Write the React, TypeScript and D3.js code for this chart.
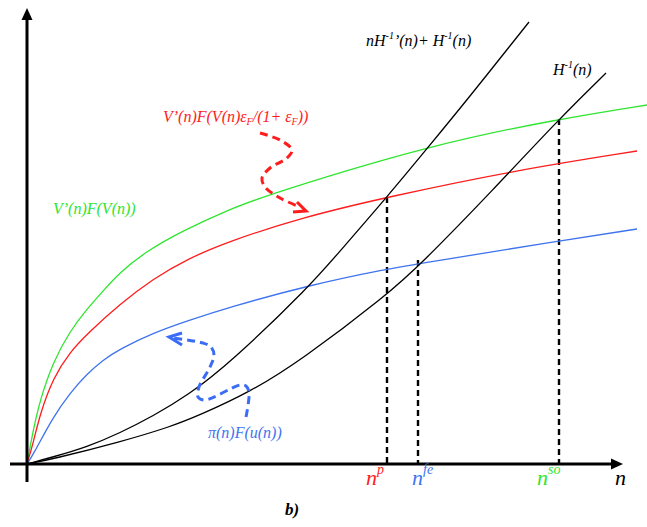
import React from "react";
import * as d3 from "d3";

// Data in chart units (n on x, value on y)
const greenVFV: [number, number][] = [
  [0, 0], [6, 33], [13, 64], [26, 102], [43, 133], [60, 155], [76, 173], [93, 192],
  [120, 213], [153, 232], [203, 255], [243, 270], [403, 319], [532, 345], [620, 359],
];
const redMarkup: [number, number][] = [
  [0, 0], [6, 20], [13, 50], [26, 86], [43, 112], [60, 130], [93, 160], [126, 185],
  [160, 205], [203, 223], [273, 246], [360, 267], [490, 294], [610, 313],
];
const bluePiFu: [number, number][] = [
  [0, 0], [6, 9], [26, 47], [43, 71], [60, 90], [76, 104], [93, 115], [126, 131],
  [160, 143], [203, 157], [283, 179], [360, 195], [396, 201], [532, 223], [610, 235],
];
const blackMarginal: [number, number][] = [
  [0, 0], [26, 7], [60, 17], [93, 31], [126, 48], [160, 68], [203, 101], [283, 178],
  [313, 213], [360, 267], [403, 319], [440, 364], [502, 442],
];
const blackH: [number, number][] = [
  [0, 0], [26, 5], [93, 22], [143, 37], [173, 49], [223, 72], [273, 103],
  [360, 169], [396, 202], [465, 273], [532, 345], [579, 391],
];
// Equilibrium points: n value and top of dashed guide
const nPoints = [
  { n: 360, top: 267 },
  { n: 391, top: 204 },
  { n: 532, top: 345 },
];
// Annotation arrow paths (chart units)
const redArrow: [number, number][] = [
  [233, 331], [253, 324], [265, 314], [260, 306], [243, 296], [235, 286], [238, 277],
  [253, 266], [273, 257],
];
const redHead: [number, number][] = [[270, 262], [279, 253], [266, 252]];
const blueArrow: [number, number][] = [
  [219, 47], [222, 72], [219, 78], [213, 79], [178, 64], [171, 67], [172, 77], [183, 97],
  [187, 109], [184, 117], [176, 121], [146, 126],
];
const blueHead: [number, number][] = [[155, 131], [142, 127], [155, 119]];

const W = 647;
const H = 527;
const x = d3.scaleLinear().domain([0, 600]).range([27, 627]);
const y = d3.scaleLinear().domain([0, 450]).range([464, 14]);

const GREEN = "#2fe52f";
const RED = "#ff1c1c";
const BLUE = "#3f74ee";
const BLUE_ANN = "#3a6cf5";
const FONT = '"Liberation Serif", "Times New Roman", serif';

export default function App() {
  const smooth = d3.line<[number, number]>().x((d) => x(d[0])).y((d) => y(d[1])).curve(d3.curveBasis);
  const arrowLine = d3
    .line<[number, number]>()
    .x((d) => x(d[0]))
    .y((d) => y(d[1]))
    .curve(d3.curveCatmullRom.alpha(0.5));
  const poly = d3.line<[number, number]>().x((d) => x(d[0])).y((d) => y(d[1]));

  const curves: { data: [number, number][]; color: string }[] = [
    { data: greenVFV, color: GREEN },
    { data: redMarkup, color: RED },
    { data: bluePiFu, color: BLUE },
    { data: blackMarginal, color: "#000" },
    { data: blackH, color: "#000" },
  ];

  const ox = x(0);
  const oy = y(0);
  const ts: React.CSSProperties = { fontFamily: FONT, fontStyle: "italic" };

  return (
    <svg width={W} height={H} style={{ position: "absolute", left: 0, top: 0, background: "#fff" }}>
      <rect width={W} height={H} fill="#fff" />
      {nPoints.map((p, i) => (
        <line key={i} x1={x(p.n)} x2={x(p.n)} y1={y(p.top)} y2={oy} stroke="#000" strokeWidth={2.4} strokeDasharray="6,4" />
      ))}
      {curves.map((c, i) => (
        <path key={i} d={smooth(c.data) || ""} fill="none" stroke={c.color} strokeWidth={1.3} />
      ))}
      <line x1={ox} x2={ox} y1={482} y2={20} stroke="#000" strokeWidth={3} />
      <path d={`M${ox - 5.5},${20} L${ox},${8} L${ox + 5.5},${20} Z`} fill="#000" />
      <line x1={10} x2={611} y1={oy} y2={oy} stroke="#000" strokeWidth={3} />
      <path d={`M611,${oy - 5.5} L623,${oy} L611,${oy + 5.5} Z`} fill="#000" />

      <path d={arrowLine(redArrow) || ""} fill="none" stroke={RED} strokeWidth={3} strokeDasharray="8,5" />
      <path d={poly(redHead) || ""} fill="none" stroke={RED} strokeWidth={3} />
      <path d={arrowLine(blueArrow) || ""} fill="none" stroke={BLUE_ANN} strokeWidth={3} strokeDasharray="8,5" />
      <path d={poly(blueHead) || ""} fill="none" stroke={BLUE_ANN} strokeWidth={3} />

      <text x={366} y={46} fontSize={16} style={ts} fill="#000">
        nH<tspan fontSize={10} dy={-7}>-1</tspan>
        <tspan dy={7}>’(n)+ H</tspan>
        <tspan fontSize={10} dy={-7}>-1</tspan>
        <tspan dy={7}>(n)</tspan>
      </text>
      <text x={553} y={75} fontSize={16} style={ts} fill="#000">
        H<tspan fontSize={10} dy={-7}>-1</tspan>
        <tspan dy={7}>(n)</tspan>
      </text>
      <text x={163} y={122} fontSize={16} style={ts} fill={RED}>
        V’(n)F(V(n)ε<tspan fontSize={10} dy={3}>F</tspan>
        <tspan dy={-3}>/(1+ ε</tspan>
        <tspan fontSize={10} dy={3}>F</tspan>
        <tspan dy={-3}>))</tspan>
      </text>
      <text x={53} y={214} fontSize={16} style={ts} fill={GREEN}>
        V’(n)F(V(n))
      </text>
      <text x={208} y={438} fontSize={16} style={ts} fill={BLUE}>
        π(n)F(u(n))
      </text>

      <text x={366} y={485} fontSize={22} style={ts} fill={RED}>
        n<tspan fontSize={14} dy={-11}>p</tspan>
      </text>
      <text x={412} y={485} fontSize={22} style={ts} fill={BLUE}>
        n<tspan fontSize={14} dy={-11}>fe</tspan>
      </text>
      <text x={537} y={485} fontSize={22} style={ts} fill={GREEN}>
        n<tspan fontSize={14} dy={-11}>so</tspan>
      </text>
      <text x={615} y={485} fontSize={22} style={ts} fill="#000">
        n
      </text>
      <text x={285} y={515} fontSize={17} style={{ ...ts, fontWeight: "bold" }} fill="#000">
        b)
      </text>
    </svg>
  );
}
